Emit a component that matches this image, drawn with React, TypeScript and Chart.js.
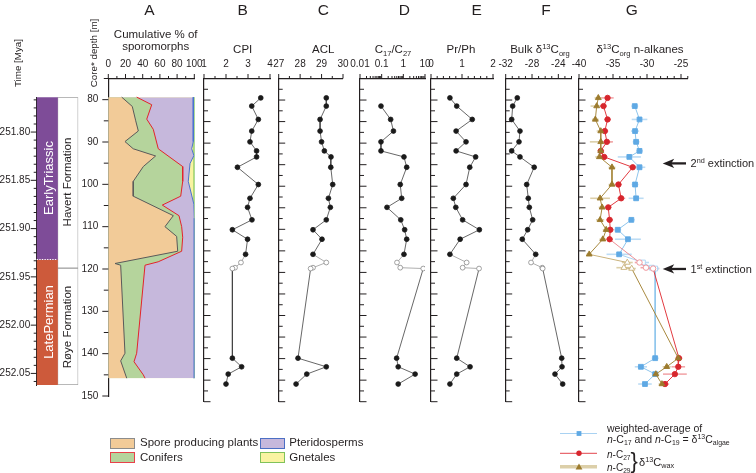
import React, { useEffect, useRef } from 'react';
import { Chart, registerables } from 'chart.js';

Chart.register(...registerables);

const FONT = '"Liberation Sans", Arial, Helvetica, sans-serif';
const INK = '#231f20';
Chart.defaults.font.family = FONT;
Chart.defaults.color = INK;

// ---------------- data ----------------
const sampleDepth = [79.5, 81.4, 84.5, 87.2, 89.7, 91.8, 93.2, 95.6, 99.6, 102.8, 104.9, 107.8, 110.1, 112.3, 115.8, 117.7, 118.9, 119.1, 139.9, 141.9, 143.6, 145.9];
const openSample = [false, false, false, false, false, false, false, false, false, false, false, false, false, false, false, true, true, true, false, false, false, false];

const cpi = [3.58, 3.17, 3.47, 3.17, 3.09, 3.39, 3.39, 2.52, 3.47, 3.09, 2.98, 3.18, 2.29, 2.98, 2.89, 2.68, 2.41, 2.29, 2.29, 2.71, 2.1, 2.0];
const acl = [29.22, 29.22, 28.93, 28.93, 29.0, 29.13, 29.44, 29.43, 29.52, 29.32, 29.41, 29.22, 28.6, 29.02, 28.6, 29.22, 28.6, 28.49, 27.9, 29.22, 28.31, 27.81];
const c17c27 = [null, 0.093, 0.26, 0.35, 0.093, 0.093, 1.07, 1.43, 0.72, 0.84, 0.176, 0.76, 1.15, 1.43, 1.07, 0.51, 0.72, 8.3, 0.49, 0.58, 3.5, 0.58];
const prph = [0.61, 0.83, 1.33, 0.81, 1.13, 0.81, 1.44, 1.25, 1.13, 0.72, 0.8, 1.02, 1.56, 0.94, 0.61, 1.15, 1.02, 1.55, 0.83, 1.26, 0.83, 0.61];
const bulkD13C = [-30.24, -30.94, -31.09, -29.83, -29.98, -31.09, -29.83, -27.67, -28.81, -28.57, -28.41, -27.9, -28.66, -29.48, -27.44, -28.15, -26.45, -26.38, -23.49, -23.44, -24.51, -23.34];

const d13cAlgae = [null, -31.8, -31.1, -31.76, -31.6, -31.1, -32.6, -31.1, -31.76, -31.6, null, -32.3, -34.3, -32.8, -34.1, -30.6, -29.3, -28.8, -28.8, -30.9, -28.8, -30.3];
const d13cAlgaeErr = [null, 0.5, 1.15, 0.6, 0.5, 0.5, 1.7, 0.85, 0.5, 1.1, null, 0.5, 0.5, 1.9, 1.85, 0.9, 0.9, 0.6, 0.5, 0.9, 0.5, 1.0];
const d13cC27 = [-35.8, -36.4, -35.8, -36.2, -35.9, -36.8, -36.3, -32.1, -34.2, -33.8, -35.7, -35.5, -35.4, -35.5, null, -31.1, -30.15, -29.1, -25.3, -25.4, -25.9, -27.35];
const d13cC27Err = [0.9, 0.5, 0.5, 0.5, 0.9, 0.4, 0.5, 0.6, 0.5, 0.6, 0.5, 0.5, 0.5, 0.5, null, 0.7, 0.8, 0.9, 0.5, 1.0, 1.75, 0.6];
const d13cC29 = [-37.16, -37.4, -37.6, -36.8, -36.8, -36.8, -37.0, -35.15, -35.15, -36.9, -36.6, -36.9, -36.0, -36.5, -38.5, -32.9, -33.4, -32.25, -25.4, -27.1, -28.7, -27.8];
const d13cC29Err = [0.55, 0.9, 0.5, 0.6, 1.6, 0.5, 0.6, 0.5, 0.5, 1.45, 0.5, 0.6, 0.5, 0.5, 0.4, 0.8, 1.1, 0.6, 0.5, 0.6, 0.5, 0.5];

// Panel A: cumulative % boundaries
const sporeDepth = [79.4, 81.6, 85.0, 87.4, 89.9, 91.6, 93.3, 95.8, 99.3, 102.8, 107.4, 110.0, 112.3, 115.8, 118.7, 119.1, 139.9, 141.7, 145.8];
const sporeCum = [15.6, 27.9, 31.9, 34.9, 19.4, 29.0, 55.0, 40.7, 29.0, 29.0, 75.6, 65.9, 79.5, 80.7, 7.8, 14.4, 19.4, 14.4, 21.4];
const coniferDepth = [79.4, 81.2, 84.6, 87.0, 91.6, 95.8, 99.3, 102.8, 104.9, 107.4, 110.0, 112.5, 115.8, 118.3, 119.1, 139.9, 141.9, 145.0, 145.8];
const coniferCum = [33.0, 50.5, 44.7, 52.3, 58.1, 86.5, 86.5, 84.2, 62.8, 82.2, 85.3, 86.5, 85.3, 58.0, 42.7, 33.0, 29.9, 40.7, 42.7];
const pteridoDepth = [79.4, 89.9, 91.6, 93.2, 95.1, 99.3, 104.7, 108.0, 145.8];
const pteridoCum = [98.8, 98.8, 97.0, 99.5, 95.0, 93.0, 99.5, 100, 100];
const gnetalesDepth = [79.4, 145.8];
const gnetalesCum = [100, 100];

// Time / stratigraphy column
const timeLabels = [251.8, 251.85, 251.9, 251.95, 252.0, 252.05];
const timeTop = 251.764;
const timeBottom = 252.062;
const periodBoundary = 251.932;
const formationBoundary = 251.941;

// tick labels
const depthLabels = [80, 90, 100, 110, 120, 130, 140, 150];
const sporoLabels = [0, 20, 40, 60, 80, 100];
const cpiLabels = [1, 2, 3, 4];
const aclLabels = [27, 28, 29, 30];
const ratioLabels = [0.01, 0.1, 1, 10];
const prphLabels = [0, 1, 2];
const bulkLabels = [-32, -28, -24];
const alkLabels = [-40, -35, -30, -25];

const extinctionDepths = [94.7, 119.2];

// ---------------- layout ----------------
const PLOT_TOP = 78.5;
const PLOT_BOTTOM = 401.7;
const CANVAS_H = 412;
const yOfDepth = (d: number) => PLOT_TOP + ((d - 75) * (PLOT_BOTTOM - PLOT_TOP)) / 75;

function range(a: number, b: number, step: number) {
  const out: number[] = [];
  for (let i = 0; a + i * step <= b + 1e-9; i++) out.push(+(a + i * step).toFixed(6));
  return out;
}
const isMult = (v: number, m: number) => Math.abs(v / m - Math.round(v / m)) < 1e-6;

const innerDepthTicks = range(75, 150, 2.5).map((v) => ({ v, len: isMult(v, 5) ? 6.5 : 4 }));
const outerDepthTicks = range(75, 150, 5).map((v) => ({ v, len: isMult(v, 10) ? 6 : 4.5 }));

const logTicks: { v: number; len: number }[] = [];
[0.01, 0.1, 1].forEach((dec) => {
  for (let m = 1; m <= 9; m++) logTicks.push({ v: +(m * dec).toFixed(6), len: m === 1 ? 4.5 : 2.5 });
});
logTicks.push({ v: 10, len: 4.5 });

const timeTicks: { v: number; len: number }[] = [];
for (let i = 0; ; i++) {
  const v = 251.75 + (i * 0.05) / 6;
  if (v > timeBottom) break;
  if (v >= timeTop) timeTicks.push({ v, len: i % 6 === 0 ? 6 : 3 });
}

// ---------------- plugins ----------------
const tickPlugin = {
  id: 'customTicks',
  afterDraw(chart: any, _args: any, opts: any) {
    const ctx = chart.ctx;
    const { left, top } = chart.chartArea;
    ctx.save();
    ctx.strokeStyle = INK;
    ctx.lineWidth = 1;
    (opts.x || []).forEach((t: any) => {
      const px = chart.scales.x.getPixelForValue(t.v);
      ctx.beginPath();
      ctx.moveTo(px, top);
      ctx.lineTo(px, top - t.len);
      ctx.stroke();
    });
    const dir = opts.yDir || 1;
    (opts.y || []).forEach((t: any) => {
      const py = chart.scales.y.getPixelForValue(t.v);
      ctx.beginPath();
      ctx.moveTo(left, py);
      ctx.lineTo(left + dir * t.len, py);
      ctx.stroke();
    });
    ctx.restore();
  },
};

const errorBarPlugin = {
  id: 'errorBars',
  beforeDatasetsDraw(chart: any) {
    const ctx = chart.ctx;
    const xs = chart.scales.x;
    chart.data.datasets.forEach((ds: any, i: number) => {
      if (!ds.errColor) return;
      const meta = chart.getDatasetMeta(i);
      ctx.save();
      ctx.strokeStyle = ds.errColor;
      ctx.lineWidth = 1.6;
      ds.data.forEach((pt: any, j: number) => {
        if (pt.e == null || pt.x == null) return;
        const el = meta.data[j];
        if (!el) return;
        ctx.beginPath();
        ctx.moveTo(xs.getPixelForValue(pt.x - pt.e), el.y);
        ctx.lineTo(xs.getPixelForValue(pt.x + pt.e), el.y);
        ctx.stroke();
      });
      ctx.restore();
    });
  },
};

const periodDotsPlugin = {
  id: 'periodDots',
  afterDatasetsDraw(chart: any) {
    const ctx = chart.ctx;
    const y = chart.scales.y.getPixelForValue(periodBoundary);
    const el = chart.getDatasetMeta(0).data[0];
    ctx.save();
    ctx.strokeStyle = '#ffffff';
    ctx.lineWidth = 1;
    ctx.setLineDash([1.3, 1.3]);
    ctx.beginPath();
    ctx.moveTo(el.x - el.width / 2, y);
    ctx.lineTo(el.x + el.width / 2, y);
    ctx.stroke();
    ctx.restore();
  },
};

// ---------------- chart helpers ----------------
function ChartBox({ left, top = 0, width, height, make }: any) {
  const ref = useRef<HTMLCanvasElement | null>(null);
  useEffect(() => {
    const chart = new Chart(ref.current as HTMLCanvasElement, make());
    return () => chart.destroy();
  }, []);
  return (
    <canvas
      ref={ref}
      width={width}
      height={height}
      style={{ position: 'absolute', left, top, width, height }}
    />
  );
}

function blackSeries(vals: (number | null)[]) {
  const data = sampleDepth
    .map((d, i) => ({ x: vals[i], y: d, o: openSample[i] }))
    .filter((p) => p.x != null);
  return {
    data,
    borderColor: '#404040',
    borderWidth: 0.8,
    pointRadius: 2.4,
    pointBackgroundColor: (c: any) => (c.raw && c.raw.o ? '#ffffff' : '#1a1a1a'),
    pointBorderColor: (c: any) => (c.raw && c.raw.o ? '#8a8a8a' : '#1a1a1a'),
    pointBorderWidth: 0.8,
    segment: { borderColor: (c: any) => (data[c.p1DataIndex] && data[c.p1DataIndex].o ? '#9a9a9a' : '#404040') },
    fill: false,
    tension: 0,
  };
}

function isoSeries(
  vals: (number | null)[],
  errs: (number | null)[],
  line: string,
  pt: string,
  err: string,
  light: string,
  style: string,
  radius: number,
  spanGaps: boolean
) {
  const data = sampleDepth.map((d, i) => ({ x: vals[i], y: d, o: openSample[i], e: errs[i] }));
  return {
    data,
    borderColor: line,
    borderWidth: 1,
    spanGaps,
    pointStyle: style,
    pointRadius: radius,
    pointBackgroundColor: (c: any) => (c.raw && c.raw.o ? '#ffffff' : pt),
    pointBorderColor: (c: any) => (c.raw && c.raw.o ? light : pt),
    pointBorderWidth: 0.9,
    segment: { borderColor: (c: any) => (data[c.p1DataIndex] && data[c.p1DataIndex].o ? light : line) },
    errColor: err,
    fill: false,
    tension: 0,
  };
}

function areaSeries(depth: number[], vals: number[], fillColor: string, lineColor: string) {
  return {
    data: depth.map((d, i) => ({ x: vals[i], y: d })),
    borderColor: lineColor,
    borderWidth: 1,
    backgroundColor: fillColor,
    fill: 'origin',
    pointRadius: 0,
    tension: 0,
  };
}

type PanelSpec = {
  key: string;
  axisX: number;
  plotW: number;
  xType: 'linear' | 'logarithmic';
  xMin: number;
  xMax: number;
  xLabels: number[];
  xTicks: { v: number; len: number }[];
  datasets: () => any[];
  isA?: boolean;
};

function panelGeometry(p: PanelSpec) {
  const canvasLeft = Math.floor(p.axisX - (p.isA ? 42 : 22));
  const leftW = p.axisX - canvasLeft;
  const width = Math.ceil(leftW + p.plotW + 16);
  return { canvasLeft, leftW, width, rightPad: width - leftW - p.plotW };
}

function panelConfig(p: PanelSpec) {
  const g = panelGeometry(p);
  return {
    type: 'line',
    data: { datasets: p.datasets() },
    options: {
      animation: false,
      responsive: false,
      indexAxis: 'y',
      events: [],
      layout: { padding: { left: 0, top: 0, right: g.rightPad, bottom: CANVAS_H - PLOT_BOTTOM } },
      plugins: {
        legend: { display: false },
        tooltip: { enabled: false },
        customTicks: {
          x: p.xTicks,
          y: p.isA ? outerDepthTicks : innerDepthTicks,
          yDir: p.isA ? -1 : 1,
        },
      },
      scales: {
        x: {
          type: p.xType,
          position: 'top',
          min: p.xMin,
          max: p.xMax,
          z: 1,
          grid: { display: false, drawTicks: false },
          border: { display: true, color: INK, width: 1.2 },
          ticks: {
            autoSkip: false,
            maxRotation: 0,
            minRotation: 0,
            padding: 8,
            color: INK,
            font: { size: 10, family: FONT },
            callback: (v: any) => String(Number(v)),
          },
          afterBuildTicks: (s: any) => {
            s.ticks = p.xLabels.map((v) => ({ value: v }));
          },
          afterFit: (s: any) => {
            s.height = PLOT_TOP;
          },
        },
        y: {
          type: 'linear',
          reverse: true,
          min: 75,
          max: 150,
          position: 'left',
          z: 1,
          grid: { display: false, drawTicks: false },
          border: { display: true, color: INK, width: 1.2 },
          ticks: {
            display: !!p.isA,
            padding: 10,
            color: INK,
            font: { size: 10, family: FONT },
            callback: (v: any) => String(Number(v)),
          },
          afterBuildTicks: (s: any) => {
            s.ticks = depthLabels.map((v) => ({ value: v }));
          },
          afterFit: (s: any) => {
            s.width = g.leftW;
          },
        },
      },
    },
    plugins: [tickPlugin, errorBarPlugin],
  };
}

const PANELS: PanelSpec[] = [
  {
    key: 'A',
    axisX: 108.3,
    plotW: 86,
    xType: 'linear',
    xMin: 0,
    xMax: 100,
    xLabels: sporoLabels,
    xTicks: range(0, 100, 10).map((v) => ({ v, len: isMult(v, 20) ? 4.5 : 2.5 })),
    isA: true,
    datasets: () => [
      areaSeries(sporeDepth, sporeCum, '#f2cb98', '#5a5a5a'),
      areaSeries(coniferDepth, coniferCum, '#b5d49c', '#e3242b'),
      areaSeries(pteridoDepth, pteridoCum, '#c6b8dc', '#4a72cf'),
      areaSeries(gnetalesDepth, gnetalesCum, '#f9f3a1', '#6cbf4a'),
    ],
  },
  {
    key: 'B',
    axisX: 204,
    plotW: 66,
    xType: 'linear',
    xMin: 1,
    xMax: 4,
    xLabels: cpiLabels,
    xTicks: range(1, 4, 0.5).map((v) => ({ v, len: isMult(v, 1) ? 4.5 : 2.5 })),
    datasets: () => [blackSeries(cpi)],
  },
  {
    key: 'C',
    axisX: 278.7,
    plotW: 64.3,
    xType: 'linear',
    xMin: 27,
    xMax: 30,
    xLabels: aclLabels,
    xTicks: range(27, 30, 0.5).map((v) => ({ v, len: isMult(v, 1) ? 4.5 : 2.5 })),
    datasets: () => [blackSeries(acl)],
  },
  {
    key: 'D',
    axisX: 360,
    plotW: 65,
    xType: 'logarithmic',
    xMin: 0.01,
    xMax: 10,
    xLabels: ratioLabels,
    xTicks: logTicks,
    datasets: () => [blackSeries(c17c27)],
  },
  {
    key: 'E',
    axisX: 431,
    plotW: 62,
    xType: 'linear',
    xMin: 0,
    xMax: 2,
    xLabels: prphLabels,
    xTicks: range(0, 2, 0.2).map((v) => ({ v, len: isMult(v, 1) ? 4.5 : 2.5 })),
    datasets: () => [blackSeries(prph)],
  },
  {
    key: 'F',
    axisX: 505.7,
    plotW: 65.8,
    xType: 'linear',
    xMin: -32,
    xMax: -22,
    xLabels: bulkLabels,
    xTicks: range(-32, -22, 1).map((v) => ({ v, len: isMult(v, 4) ? 4.5 : 2.5 })),
    datasets: () => [blackSeries(bulkD13C)],
  },
  {
    key: 'G',
    axisX: 579,
    plotW: 108.8,
    xType: 'linear',
    xMin: -40,
    xMax: -24,
    xLabels: alkLabels,
    xTicks: range(-40, -24, 1).map((v) => ({ v, len: isMult(v, 5) ? 4.5 : 2.5 })),
    datasets: () => [
      isoSeries(d13cC29, d13cC29Err, '#a8893f', '#9c7b2d', '#dccfa9', '#c9b27c', 'triangle', 3.4, true),
      isoSeries(d13cC27, d13cC27Err, '#e23a40', '#d7262d', '#f2a7aa', '#ee8f95', 'circle', 2.7, true),
      isoSeries(d13cAlgae, d13cAlgaeErr, '#8ec5ec', '#5fa9e4', '#bcdcf4', '#a9d2f2', 'rect', 3.4, false),
    ],
  },
];

const TIME_W = 80;
const TIME_H = 400;
function timeConfig() {
  return {
    type: 'bar',
    data: {
      labels: ['period', 'formation'],
      datasets: [
        { data: [[timeTop, periodBoundary], null], backgroundColor: '#7e4c98', borderWidth: 0 },
        { data: [[periodBoundary, timeBottom], null], backgroundColor: '#cd5a3b', borderWidth: 0 },
        { data: [null, [timeTop, formationBoundary]], backgroundColor: '#ffffff', borderColor: '#a0a0a0', borderWidth: 1, borderSkipped: false },
        { data: [null, [formationBoundary, timeBottom]], backgroundColor: '#ffffff', borderColor: '#a0a0a0', borderWidth: 1, borderSkipped: false },
      ],
    },
    options: {
      animation: false,
      responsive: false,
      events: [],
      datasets: { bar: { grouped: false, barPercentage: 1, categoryPercentage: 1 } },
      layout: { padding: { left: 0, top: 97.3, right: TIME_W - 78.3, bottom: TIME_H - 385 } },
      plugins: {
        legend: { display: false },
        tooltip: { enabled: false },
        customTicks: { y: timeTicks, yDir: -1 },
      },
      scales: {
        x: { display: false },
        y: {
          type: 'linear',
          reverse: true,
          min: timeTop,
          max: timeBottom,
          position: 'left',
          grid: { display: false, drawTicks: false },
          border: { display: true, color: INK, width: 1 },
          ticks: {
            padding: 6.5,
            color: INK,
            font: { size: 10, family: FONT },
            callback: (v: any) => Number(v).toFixed(2),
          },
          afterBuildTicks: (s: any) => {
            s.ticks = timeLabels.map((v) => ({ value: v }));
          },
          afterFit: (s: any) => {
            s.width = 36.7;
          },
        },
      },
    },
    plugins: [tickPlugin, periodDotsPlugin],
  };
}

// ---------------- text helpers ----------------
function Txt({ x, y, size = 10, rot = false, align = 'center', color = INK, children }: any) {
  const tx = align === 'center' ? '-50%' : align === 'left' ? '0%' : '-100%';
  return (
    <div
      style={{
        position: 'absolute',
        left: x,
        top: y,
        transform: `translate(${tx}, -50%)${rot ? ' rotate(-90deg)' : ''}`,
        fontSize: size,
        lineHeight: 1,
        whiteSpace: 'nowrap',
        color,
        fontFamily: FONT,
      }}
    >
      {children}
    </div>
  );
}
const Sup = ({ children }: any) => (
  <span style={{ fontSize: '0.66em', verticalAlign: '0.5em', lineHeight: 0 }}>{children}</span>
);
const Sub = ({ children }: any) => (
  <span style={{ fontSize: '0.66em', verticalAlign: '-0.35em', lineHeight: 0 }}>{children}</span>
);

function Swatch({ x, y, bg, border }: any) {
  return (
    <div
      style={{
        position: 'absolute',
        left: x,
        top: y,
        width: 25,
        height: 11,
        boxSizing: 'border-box',
        background: bg,
        border: `1.3px solid ${border}`,
      }}
    />
  );
}

const letters = [
  { t: 'A', x: 149.3 },
  { t: 'B', x: 242.7 },
  { t: 'C', x: 323.3 },
  { t: 'D', x: 404.3 },
  { t: 'E', x: 476.7 },
  { t: 'F', x: 546 },
  { t: 'G', x: 631.7 },
];

export default function App() {
  const arrowTexts = [
    <>
      2<Sup>nd</Sup> extinction
    </>,
    <>
      1<Sup>st</Sup> extinction
    </>,
  ];
  return (
    <div
      style={{
        position: 'absolute',
        left: 0,
        top: 0,
        width: 756,
        height: 473,
        background: '#ffffff',
        overflow: 'hidden',
        fontFamily: FONT,
        color: INK,
      }}
    >
      <ChartBox left={0} width={TIME_W} height={TIME_H} make={timeConfig} />
      {PANELS.map((p) => {
        const g = panelGeometry(p);
        return <ChartBox key={p.key} left={g.canvasLeft} width={g.width} height={CANVAS_H} make={() => panelConfig(p)} />;
      })}

      {/* panel letters */}
      {letters.map((l) => (
        <Txt key={l.t} x={l.x} y={9.5} size={15.5}>
          {l.t}
        </Txt>
      ))}

      {/* titles */}
      <Txt x={155.7} y={34.5} size={11.5}>Cumulative % of</Txt>
      <Txt x={155.7} y={47} size={11.5}>sporomorphs</Txt>
      <Txt x={242.7} y={49.5} size={11.5}>CPI</Txt>
      <Txt x={323.3} y={49.5} size={11.5}>ACL</Txt>
      <Txt x={393} y={49.5} size={11.5}>
        C<Sub>17</Sub>/C<Sub>27</Sub>
      </Txt>
      <Txt x={461} y={49.5} size={11.5}>Pr/Ph</Txt>
      <Txt x={540} y={49.5} size={11.5}>
        Bulk δ<Sup>13</Sup>C<Sub>org</Sub>
      </Txt>
      <Txt x={640} y={49.5} size={11.5}>
        δ<Sup>13</Sup>C<Sub>org</Sub> n-alkanes
      </Txt>

      <Txt x={94} y={52.5} size={9.8} rot>
        Core* depth [m]
      </Txt>
      <Txt x={17.5} y={62.5} size={9.8} rot>
        Time [Mya]
      </Txt>

      {/* stratigraphic column labels */}
      <Txt x={47.5} y={178} size={13} rot color="#ffffff">EarlyTriassic</Txt>
      <Txt x={47.5} y={322} size={13} rot color="#ffffff">LatePermian</Txt>
      <Txt x={68.3} y={182} size={11.5} rot>Havert Formation</Txt>
      <Txt x={68.3} y={327} size={11.5} rot>Røye Formation</Txt>

      {/* arrows and G legend marks */}
      <svg width={756} height={473} style={{ position: 'absolute', left: 0, top: 0 }}>
        {extinctionDepths.map((d, i) => {
          const y = yOfDepth(d);
          const tip = 662.7;
          return (
            <g key={i}>
              <path d={`M${tip},${y} L${tip + 11.5},${y - 4.6} L${tip + 8.5},${y} L${tip + 11.5},${y + 4.6} Z`} fill={INK} />
              <line x1={tip + 8} y1={y} x2={686} y2={y} stroke={INK} strokeWidth={2.3} />
            </g>
          );
        })}
        <line x1={560} y1={433.5} x2={597} y2={433.5} stroke="#a9d2f2" strokeWidth={1.2} />
        <rect x={576.6} y={431.1} width={4.8} height={4.8} fill="#5fa9e4" />
        <line x1={560} y1={453.3} x2={597} y2={453.3} stroke="#e86a70" strokeWidth={1.2} />
        <circle cx={579} cy={453.3} r={2.7} fill="#d7262d" />
        <line x1={560} y1={466.8} x2={597} y2={466.8} stroke="#dccfa9" strokeWidth={3.5} />
        <path d="M579,463.6 L582.4,469.4 L575.6,469.4 Z" fill="#9c7b2d" />
      </svg>

      {extinctionDepths.map((d, i) => (
        <Txt key={i} x={690.5} y={yOfDepth(d)} size={11} align="left">
          {arrowTexts[i]}
        </Txt>
      ))}

      {/* G legend text */}
      <Txt x={607} y={427.5} size={10.5} align="left">weighted-average of</Txt>
      <Txt x={607} y={439} size={10.5} align="left">
        <i>n</i>-C<Sub>17</Sub> and <i>n</i>-C<Sub>19</Sub> = δ<Sup>13</Sup>C<Sub>algae</Sub>
      </Txt>
      <Txt x={607} y={454.5} size={10} align="left">
        <i>n</i>-C<Sub>27</Sub>
      </Txt>
      <Txt x={607} y={467.5} size={10} align="left">
        <i>n</i>-C<Sub>29</Sub>
      </Txt>
      <Txt x={630.5} y={460.5} size={22} align="left">{'}'}</Txt>
      <Txt x={639} y={461.5} size={11} align="left">
        δ<Sup>13</Sup>C<Sub>wax</Sub>
      </Txt>

      {/* A legend */}
      <Swatch x={110} y={437.5} bg="#f2cb98" border="#8c8c8c" />
      <Swatch x={110} y={452} bg="#b5d49c" border="#e8414a" />
      <Swatch x={260} y={437.5} bg="#c6b8dc" border="#4c6fc4" />
      <Swatch x={260} y={452} bg="#f9f3a1" border="#80c25a" />
      <Txt x={140} y={443.3} size={11.5} align="left">Spore producing plants</Txt>
      <Txt x={140} y={457.7} size={11.5} align="left">Conifers</Txt>
      <Txt x={289.3} y={443.3} size={11.5} align="left">Pteridosperms</Txt>
      <Txt x={289.3} y={457.7} size={11.5} align="left">Gnetales</Txt>
    </div>
  );
}
